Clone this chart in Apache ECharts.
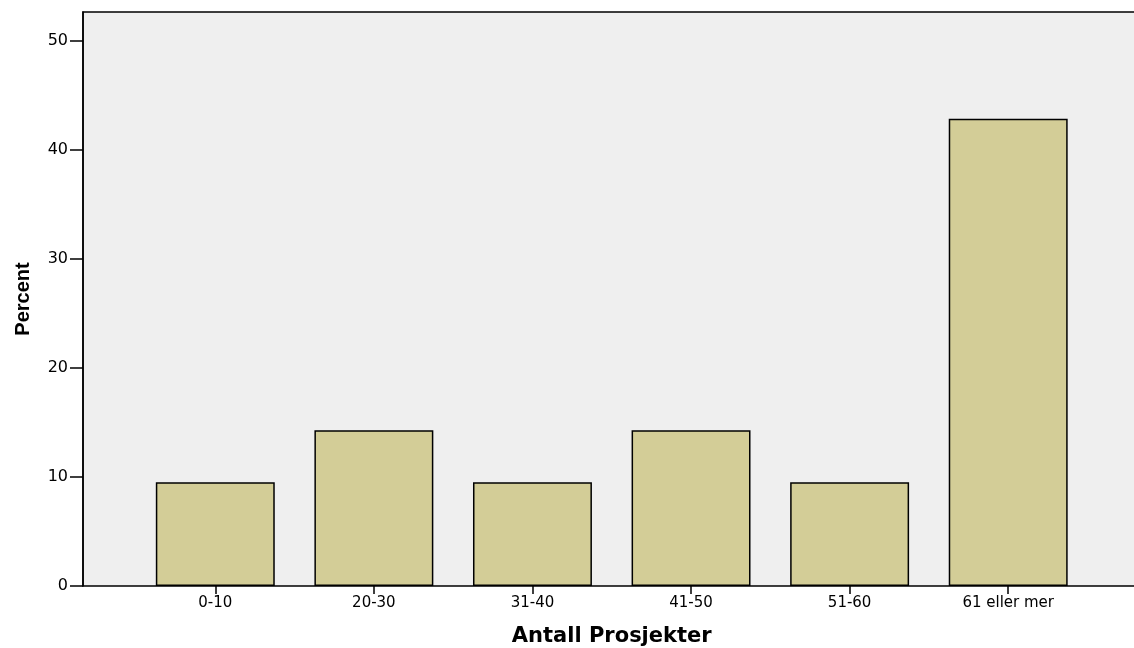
<!DOCTYPE html>
<html><head><meta charset="utf-8">
<script src="https://cdn.jsdelivr.net/npm/echarts@6/dist/echarts.min.js"></script>
<style>html,body{margin:0;padding:0;background:#fff}#c{width:1134px;height:648px}</style>
</head><body><div id="c"></div>
<script>
const categories = ['0-10','20-30','31-40','41-50','51-60','61 eller mer'];
const percentValues = [9.52, 14.29, 9.52, 14.29, 9.52, 42.86];
const yTicks = [0, 10, 20, 30, 40, 50];
const xTitle = 'Antall Prosjekter';
const yTitle = 'Percent';

const YMAX = 52.66;
const chart = echarts.init(document.getElementById('c'), null, {renderer:'canvas'});
const font = '"DejaVu Sans", "Liberation Sans", Arial, sans-serif';
chart.setOption({
  animation: false,
  backgroundColor: '#ffffff',
  grid: [
    {left: 83, right: -4, top: 12, bottom: 62, show: true, backgroundColor: '#efefef', borderColor: '#000', borderWidth: 1.5, containLabel: false, outerBoundsMode: 'none'},
    {left: 136, right: 46.5, top: 12, bottom: 62, containLabel: false, outerBoundsMode: 'none'}
  ],
  xAxis: [
    {gridIndex: 0, type: 'value', min: 0, max: 1, show: false},
    {gridIndex: 1, type: 'category', data: categories,
      axisLine: {show: false},
      axisTick: {show: true, alignWithLabel: true, length: 8, lineStyle: {color: '#000', width: 1.5}},
      axisLabel: {color: '#000', fontFamily: font, fontSize: 15, margin: 10},
      name: xTitle, nameLocation: 'middle', nameGap: 40,
      nameTextStyle: {color: '#000', fontFamily: font, fontSize: 21, fontWeight: 'bold'}
    }
  ],
  yAxis: [
    {gridIndex: 0, type: 'value', min: 0, max: YMAX, interval: 10,
      axisLine: {show: true, lineStyle: {color: '#000', width: 1.5}},
      axisTick: {show: true, length: 13, lineStyle: {color: '#000', width: 1.5}},
      axisLabel: {color: '#000', fontFamily: font, fontSize: 16, margin: 15, showMaxLabel: false,
        formatter: v => yTicks.includes(v) ? String(v) : ''},
      splitLine: {show: false},
      name: yTitle, nameLocation: 'middle', nameGap: 50, nameRotate: 90,
      nameTextStyle: {color: '#000', fontFamily: '"Liberation Sans", Arial, sans-serif', fontSize: 20, fontWeight: 'bold'}
    },
    {gridIndex: 1, type: 'value', min: 0, max: YMAX, show: false}
  ],
  series: [{
    type: 'bar', xAxisIndex: 1, yAxisIndex: 1,
    data: percentValues,
    barWidth: '75%',
    itemStyle: {color: '#d3cd97', borderColor: '#000', borderWidth: 1.5}
  }]
});
</script></body></html>
